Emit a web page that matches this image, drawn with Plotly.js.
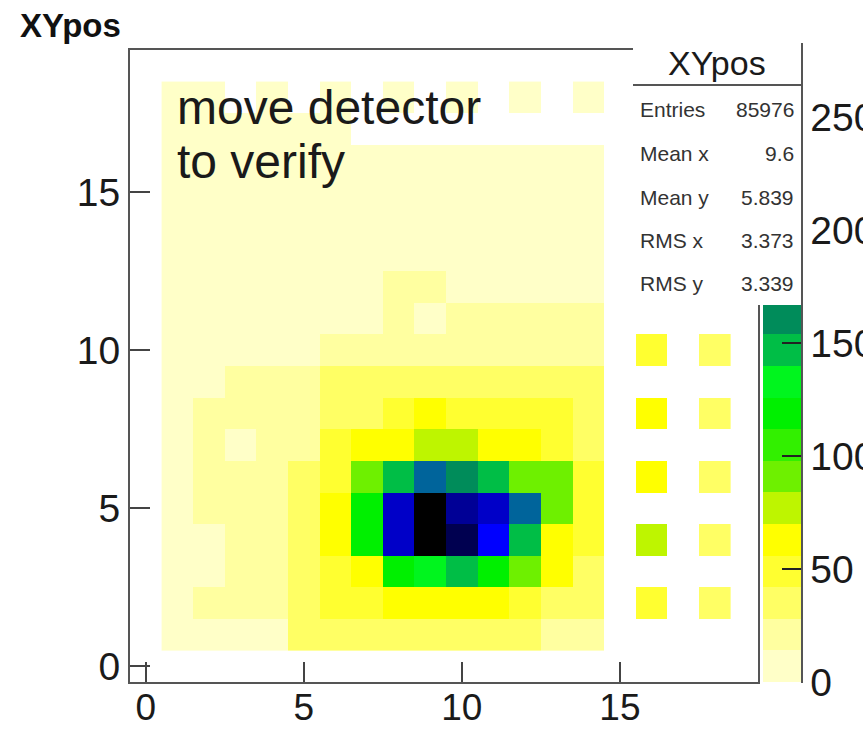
<!DOCTYPE html>
<html><head><meta charset="utf-8">
<script src="https://cdn.plot.ly/plotly-3.0.1.min.js"></script>
<style>html,body{margin:0;padding:0;overflow:hidden;background:#fff}</style>
</head><body><div id="chart" style="width:863px;height:731px"></div>
<script>
// bin centres
const xCenters = [1,2,3,4,5,6,7,8,9,10,11,12,13,14,15,16,17,18];
const yCenters = [1,2,3,4,5,6,7,8,9,10,11,12,13,14,15,16,17,18];
// bin contents, one array per y row (x = 1..18)
const row01 = [8,12,12,6,30,30,38,38,40,40,38,38,25,25,0,0,0,0];
const row02 = [8,15,15,15,35,50,52,60,66,66,66,55,40,35,0,52,0,40];
const row03 = [8,12,15,15,30,50,60,112,128,150,112,88,63,40,0,0,0,0];
const row04 = [8,10,15,18,35,60,125,231,275,262,217,150,66,49,0,77,0,35];
const row05 = [8,20,15,15,35,60,125,231,273,245,225,189,95,49,0,0,0,0];
const row06 = [10,15,15,15,30,52,91,147,189,161,147,95,95,49,0,63,0,36];
const row07 = [10,22,6,22,22,49,63,63,77,77,63,60,49,38,0,0,0,0];
const row08 = [8,16,20,20,22,38,40,42,60,45,45,45,42,35,0,63,0,40];
const row09 = [8,12,18,20,20,30,30,32,32,30,30,30,30,28,0,0,0,0];
const row10 = [10,10,10,10,10,25,25,25,25,25,25,25,25,25,0,49,0,40];
const row11 = [9,10,10,10,10,12,12,22,8,22,22,22,22,22,0,0,0,0];
const row12 = [9,10,10,10,10,10,10,20,20,11,11,11,11,11,0,0,0,0];
const row13 = [9,10,10,10,10,10,10,10,10,10,10,10,10,10,0,0,0,0];
const row14 = [9,10,10,11,10,10,10,10,10,10,10,10,10,10,0,0,0,0];
const row15 = [9,10,10,10,10,10,10,10,10,10,10,10,10,10,0,0,0,0];
const row16 = [9,10,10,10,10,10,10,10,10,10,10,10,10,10,0,0,0,0];
const row17 = [9,9,9,9,9,9,0,0,0,0,0,0,0,0,0,0,0,0];
const row18 = [8,8,0,12,0,12,0,10,0,10,0,10,0,10,0,0,0,0];

const paletteColors = ['#ffffc8','#ffffa0','#ffff64','#ffff30','#ffff00','#bef500','#6ef000','#32f000','#00f000','#00f51e',
                       '#00be46','#008c5a','#007878','#00649b','#0046b4','#0000ff','#0000c8','#000096','#000050','#000000'];
const zMax = 280;
const paletteTicks = [0,50,100,150,200,250];
const axisTicks = [0,5,10,15];
const histName = 'XYpos';
const statsLabels = ['Entries','Mean x','Mean y','RMS x','RMS y'];
const statsValues = ['85976','9.6','5.839','3.373','3.339'];
const noteLines = ['move detector','to verify'];

const rows = [row01,row02,row03,row04,row05,row06,row07,row08,row09,row10,row11,row12,row13,row14,row15,row16,row17,row18];
const z = rows.map(r => r.map(v => v > 0 ? v : null));

const nLev = paletteColors.length;
const colorscale = [];
paletteColors.forEach((c, i) => { colorscale.push([i / nLev, c]); colorscale.push([(i + 1) / nLev, c]); });

// pixel helpers for the frame (plot area 130..758 x 50..682)
const L = 130, R = 758, T = 50, B = 682;
const px = x => (x - L) / (R - L);
const py = y => (B - y) / (B - T);

const FONT = 'Liberation Sans, Arial, Helvetica, sans-serif';
const dark = '#1a1a1a';

const trace = {
  type: 'heatmap', x: xCenters, y: yCenters, z: z,
  zmin: 0, zmax: zMax, colorscale: colorscale, hoverongaps: false,
  colorbar: {
    x: px(763), xanchor: 'left', y: 0, yanchor: 'bottom', len: 1, lenmode: 'fraction',
    thickness: 39, thicknessmode: 'pixels', xpad: 0, ypad: 0, outlinewidth: 0,
    ticks: 'inside', ticklen: 20, tickwidth: 2, tickcolor: '#222',
    tickmode: 'array', tickvals: paletteTicks, ticktext: paletteTicks.map(String),
    tickfont: {size: 39, family: FONT, color: dark}
  }
};

const annotations = [];
function ann(o) { annotations.push(Object.assign({xref: 'paper', yref: 'paper', showarrow: false, borderpad: 0, borderwidth: 0}, o)); }
// stats box background and lines
ann({x: px(633), xanchor: 'left', y: py(43), yanchor: 'top', text: ' ', width: 169, height: 262, bgcolor: '#ffffff'});
ann({x: px(801), xanchor: 'left', y: py(43), yanchor: 'top', text: ' ', width: 2, height: 640, bgcolor: '#555555'});
ann({x: px(633), xanchor: 'left', y: py(84), yanchor: 'top', text: ' ', width: 169, height: 2, bgcolor: '#555555'});
ann({x: px(717), xanchor: 'center', y: py(63), yanchor: 'middle', text: histName, font: {size: 34, family: FONT, color: dark}});
const rowY = [109, 153, 197, 240, 283];
statsLabels.forEach((s, i) => {
  ann({x: px(640), xanchor: 'left', y: py(rowY[i]), yanchor: 'middle', text: s, font: {size: 21, family: FONT, color: '#333'}});
  ann({x: px(794), xanchor: 'right', y: py(rowY[i]), yanchor: 'middle', text: statsValues[i], font: {size: 21, family: FONT, color: '#333'}});
});
// note text
ann({x: px(177), xanchor: 'left', y: py(107), yanchor: 'middle', text: noteLines[0], font: {size: 48, family: FONT, color: dark}});
ann({x: px(177), xanchor: 'left', y: py(161), yanchor: 'middle', text: noteLines[1], font: {size: 48, family: FONT, color: dark}});

const axisCommon = {
  tickmode: 'array', tickvals: axisTicks, ticktext: axisTicks.map(String),
  ticks: 'inside', ticklen: 20, tickwidth: 2, tickcolor: '#444',
  showline: true, linecolor: '#555', linewidth: 2, mirror: true,
  showgrid: false, zeroline: false, fixedrange: true,
  tickfont: {size: 39, family: FONT, color: dark}
};

const layout = {
  width: 863, height: 731,
  margin: {l: L, r: 863 - R, t: T, b: 731 - B, autoexpand: false},
  paper_bgcolor: '#fff', plot_bgcolor: '#fff',
  font: {family: FONT, color: dark},
  title: {text: histName, font: {size: 33, weight: 'bold', family: FONT, color: '#111'},
          x: 20 / 863, xanchor: 'left', xref: 'container', y: 1 - 25 / 731, yanchor: 'middle', yref: 'container'},
  xaxis: Object.assign({}, axisCommon, {range: [-0.5, 19.37], ticklabelstandoff: -8, tickfont: {size: 37, family: FONT, color: dark}}),
  yaxis: Object.assign({range: [-0.5, 19.5]}, axisCommon),
  annotations: annotations
};

Plotly.newPlot('chart', [trace], layout, {displayModeBar: false, staticPlot: true});
</script></body></html>
